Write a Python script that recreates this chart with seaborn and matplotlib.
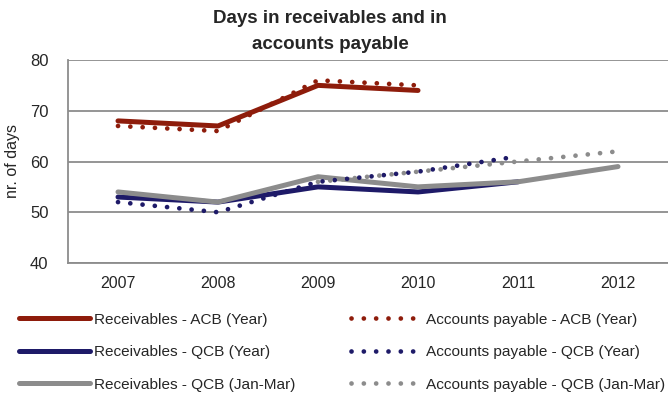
import numpy as np
import pandas as pd
import matplotlib
matplotlib.use("Agg")
import matplotlib.pyplot as plt
from matplotlib.ticker import FixedLocator
import seaborn as sns

years = ["2007", "2008", "2009", "2010", "2011", "2012"]
nan = np.nan
recv_acb_year = [68, 67, 75, 74, nan, nan]
recv_qcb_year = [53, 52, 55, 54, 56, nan]
recv_qcb_q1 = [54, 52, 57, 55, 56, 59]
pay_acb_year = [67, 66, 76, 75, nan, nan]
pay_qcb_year = [52, 50, 56, 58, 61, nan]
pay_qcb_q1 = [nan, nan, 56, 58, 60, 62]

series = [
    ("Receivables - ACB (Year)", recv_acb_year, "#8e1c0b", "-"),
    ("Receivables - QCB (Year)", recv_qcb_year, "#1e1a68", "-"),
    ("Receivables - QCB (Jan-Mar)", recv_qcb_q1, "#8c8c8c", "-"),
    ("Accounts payable - ACB (Year)", pay_acb_year, "#8e1c0b", ":"),
    ("Accounts payable - QCB (Year)", pay_qcb_year, "#1e1a68", ":"),
    ("Accounts payable - QCB (Jan-Mar)", pay_qcb_q1, "#8c8c8c", ":"),
]

sns.set_style("white")
plt.rcParams["font.family"] = ["Liberation Sans", "DejaVu Sans"]

fig = plt.figure(figsize=(6.68, 3.93), dpi=100)
ax = fig.add_axes([68 / 668, 1 - 263 / 393, 600 / 668, 203 / 393])

pos = np.arange(len(years))
handles = []
for name, vals, color, style in series:
    df = pd.DataFrame({"x": pos, "y": vals}).dropna()
    sns.lineplot(data=df, x="x", y="y", ax=ax, color=color, linewidth=3.6,
                 label=name, legend=False)
    line = ax.lines[-1]
    if style == ":":
        line.set_linewidth(3.4)
        line.set_dashes([0.01, 2.6])
        line.set_dash_capstyle("round")
    else:
        line.set_solid_capstyle("round")
    handles.append(line)

ax.set_xlim(-0.5, len(years) - 0.5)
ax.set_ylim(40, 80)
ax.set_yticks([40, 50, 60, 70, 80])
ax.set_xticks(pos)
ax.set_xticklabels(years)
ax.xaxis.set_minor_locator(FixedLocator(np.arange(-0.5, len(years), 1.0)))
ax.tick_params(axis="x", which="major", length=0, pad=9, labelsize=11.5)
ax.tick_params(axis="x", which="minor", length=5, color="#8c8c8c", width=1.3)
ax.tick_params(axis="y", length=5, color="#8c8c8c", width=1.3, labelsize=12, pad=9)

ax.yaxis.grid(True, color="#8c8c8c", linewidth=1.3)
ax.set_axisbelow(True)
for s in ["top", "right"]:
    ax.spines[s].set_visible(False)
for s in ["left", "bottom"]:
    ax.spines[s].set_color("#8c8c8c")
    ax.spines[s].set_linewidth(1.3)

ax.set_xlabel("")
ax.set_ylabel("nr. of days", fontsize=11.5, labelpad=7)

fig.suptitle("Days in receivables and in\naccounts payable", x=0.494, y=0.975,
             va="top", fontsize=13.5, fontweight="bold", linespacing=1.68)

fig.legend(handles=handles, labels=[s[0] for s in series], ncol=2,
           loc="lower left", bbox_to_anchor=(10 / 668, -0.02),
           frameon=False, fontsize=11.1, handlelength=4.6, handletextpad=0.28,
           columnspacing=3.55, labelspacing=1.2, borderaxespad=0.2)

fig.savefig("out.png", dpi=100)
